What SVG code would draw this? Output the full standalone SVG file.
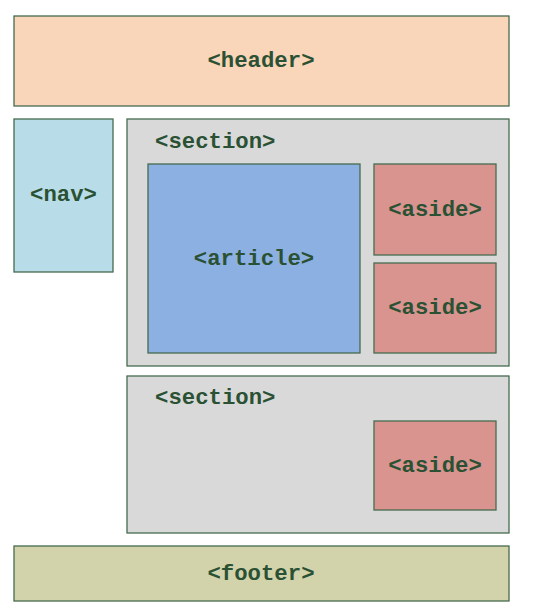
<svg xmlns="http://www.w3.org/2000/svg" width="556" height="611" viewBox="0 0 556 611">
<style>
rect{stroke:#456b4f;stroke-width:1.3}
text{font-family:"Liberation Mono","Courier New",monospace;font-weight:bold;font-size:22.3px;fill:#2b5134;dominant-baseline:central}
.c{text-anchor:middle}
</style>
<rect x="0" y="0" width="556" height="611" fill="#ffffff" style="stroke:none"/>
<g id="header"><rect x="14" y="16" width="495" height="90" fill="#f9d5b9"/><text class="c" x="261" y="61">&lt;header&gt;</text></g>
<g id="nav"><rect x="14" y="119" width="99" height="153" fill="#b8dde8"/><text class="c" x="63.5" y="195">&lt;nav&gt;</text></g>
<g id="section1"><rect x="127" y="119" width="382" height="247" fill="#d9d9d9"/><text x="155" y="142">&lt;section&gt;</text></g>
<g id="article"><rect x="148" y="164" width="212" height="189" fill="#8db0e3"/><text class="c" x="254" y="259">&lt;article&gt;</text></g>
<g id="aside1"><rect x="374" y="164" width="122" height="91" fill="#d9948f"/><text class="c" x="435" y="210">&lt;aside&gt;</text></g>
<g id="aside2"><rect x="374" y="263" width="122" height="90" fill="#d9948f"/><text class="c" x="435" y="308">&lt;aside&gt;</text></g>
<g id="section2"><rect x="127" y="376" width="382" height="157" fill="#d9d9d9"/><text x="155" y="398">&lt;section&gt;</text></g>
<g id="aside3"><rect x="374" y="421" width="122" height="89" fill="#d9948f"/><text class="c" x="435" y="466">&lt;aside&gt;</text></g>
<g id="footer"><rect x="14" y="546" width="495" height="55" fill="#d3d3ab"/><text class="c" x="261" y="574">&lt;footer&gt;</text></g>
<g id="connectors"/>
</svg>
